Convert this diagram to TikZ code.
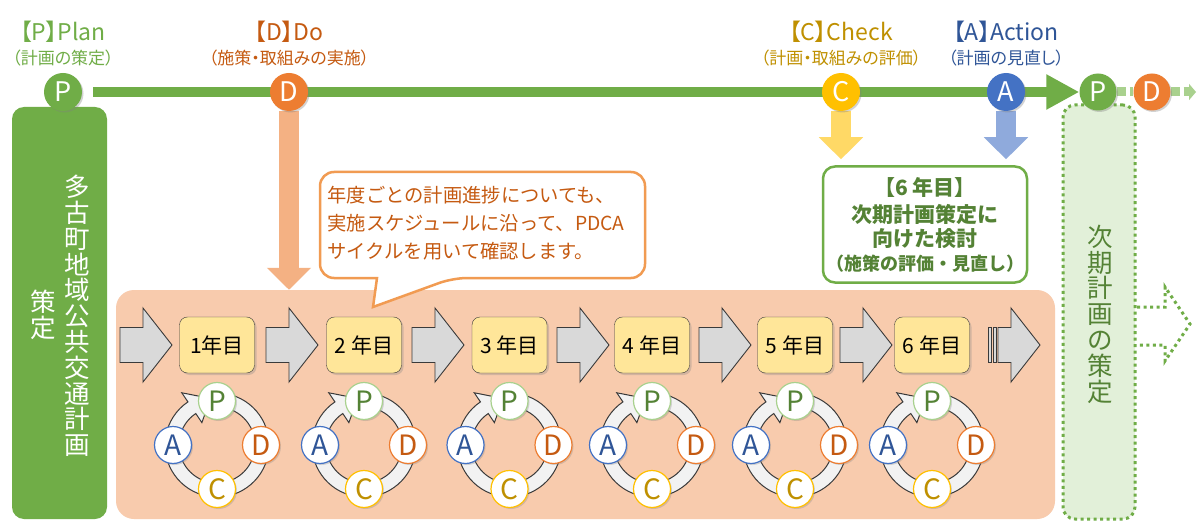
\documentclass[tikz,border=0pt]{standalone}
\usepackage{fontspec}
\setmainfont{Noto Sans CJK JP}
\newfontfamily\propfont{Noto Sans CJK JP}[RawFeature=+palt]
\usetikzlibrary{positioning, arrows.meta, shadows}
\pgfdeclarelayer{back}
\pgfdeclarelayer{lines}
\pgfsetlayers{back,lines,main}

\definecolor{pgreen}{HTML}{70AD47}
\definecolor{dgreen}{HTML}{548235}
\definecolor{lgreen}{HTML}{A9D18E}
\definecolor{palegreen}{HTML}{E2F0D9}
\definecolor{porange}{HTML}{ED7D31}
\definecolor{dorange}{HTML}{C55A11}
\definecolor{lorange}{HTML}{F4B183}
\definecolor{paleorange}{HTML}{F8CBAD}
\definecolor{bubbleorange}{HTML}{F19B52}
\definecolor{pyellow}{HTML}{FFC000}
\definecolor{dyellow}{HTML}{BF9000}
\definecolor{lyellow}{HTML}{FFD966}
\definecolor{boxyellow}{HTML}{FFE699}
\definecolor{pblue}{HTML}{4472C4}
\definecolor{dblue}{HTML}{2F5597}
\definecolor{lblue}{HTML}{8FAADC}
\definecolor{arrowgray}{HTML}{D9D9D9}
\definecolor{ringgray}{HTML}{F2F2F2}
\definecolor{edgegray}{HTML}{3A3A3A}

\begin{document}
\begin{tikzpicture}[x=1pt, y=1pt,
    phase/.style={circle, minimum size=38pt, inner sep=0pt, text=white,
        font=\fontsize{27}{27}\selectfont,
        drop shadow={shadow xshift=1.5pt, shadow yshift=-1.5pt, opacity=0.35}},
    phasetitle/.style={inner sep=0pt, font=\propfont\fontsize{23}{26}\selectfont},
    phasenote/.style={inner sep=0pt, font=\propfont\fontsize{17}{19}\selectfont},
    vtext/.style={align=center, inner sep=0pt, font=\fontsize{25.5}{25.8}\selectfont},
    planpanel/.style={fill=pgreen, rounded corners=12pt, minimum width=95pt, minimum height=412pt},
    yearpanel/.style={fill=paleorange, rounded corners=18pt, minimum width=939pt, minimum height=229pt},
    nextpanel/.style={fill=palegreen, draw=pgreen, line width=3pt, dash pattern=on 3pt off 3.5pt,
        rounded corners=12pt, minimum width=72pt, minimum height=414pt},
    mainline/.style={draw=pgreen, line width=10pt, shorten <=11pt,
        -{Triangle[length=33pt, width=33pt]}},
    nextline/.style={draw=lgreen, line width=9pt, dash pattern=on 9pt off 4pt},
    downarrow/.style={line width=20pt, -{Triangle[length=22pt, width=43pt]}},
    bubbleline/.style={draw=bubbleorange, fill=white, line width=2.5pt},
    bubble/.style={text width=310pt, align=left, inner xsep=7pt, text=dorange,
        font=\fontsize{19.3}{28}\selectfont},
    review/.style={draw=pgreen, line width=2.5pt, fill=white, rounded corners=12pt,
        minimum width=204pt, minimum height=116pt, align=center, text=dgreen,
        font=\bfseries\fontsize{21}{24}\selectfont, inner sep=2pt},
    yearbox/.style={draw=edgegray, fill=boxyellow, rounded corners=8pt,
        minimum width=75pt, minimum height=56pt, font=\fontsize{21}{21}\selectfont,
        drop shadow={shadow xshift=2pt, shadow yshift=-2pt, opacity=0.3}},
    grayarrow/.style={draw=edgegray, fill=arrowgray, line width=0.9pt},
    ringbody/.style={draw=edgegray, fill=ringgray, line width=1pt},
    cyc/.style={circle, fill=white, line width=1.2pt, minimum size=37pt, inner sep=0pt,
        font=\fontsize{28}{28}\selectfont,
        drop shadow={shadow xshift=1.5pt, shadow yshift=-1.5pt, opacity=0.3}},
    yeararrow/.pic={
        \draw[grayarrow] (0,-17.5) -- (23,-17.5) -- (23,-37) -- (52,0)
            -- (23,37) -- (23,17.5) -- (0,17.5) -- cycle;
    },
    pdca/.pic={
        \draw[ringbody] (80:52) arc[start angle=80, end angle=-236, radius=52]
            -- (-236:63) -- (-262:47) -- (-236:27) -- (-236:38)
            arc[start angle=-236, end angle=80, radius=38] -- cycle;
        \node[cyc, draw=lgreen, text=dgreen] (-p) at (90:44) {P};
        \node[cyc, draw=porange, text=dorange] (-d) at (0:44) {D};
        \node[cyc, draw=pyellow, text=dyellow] (-c) at (-90:44) {C};
        \node[cyc, draw=pblue, text=dblue] (-a) at (180:44) {A};
    }
]
\useasboundingbox (0,0) rectangle (1198,-521);
\begin{pgfonlayer}{back}
  \fill[white] (0,0) rectangle (1198,-521);
\end{pgfonlayer}

% panels
\node[planpanel] (planbox) at (59.5,-313) {};
\node[vtext, text=white] (plantitle) at (77,-316) {多\\古\\町\\地\\域\\公\\共\\交\\通\\計\\画};
\node[vtext, text=white] (plansub) at (43,-315) {策\\定};
\node[yearpanel] (years) at (585.5,-404.5) {};
\node[nextpanel] (nextbox) at (1099,-312) {};
\node[vtext, text=dgreen] (nexttitle) at (1100,-314) {次\\期\\計\\画\\の\\策\\定};
\draw[draw=pgreen, line width=3pt, dash pattern=on 3pt off 3.5pt]
    (1137,-307) -- (1165,-307) -- (1165,-287) -- (1190,-324)
    -- (1165,-361) -- (1165,-345) -- (1137,-345);

% PDCA phases
\node[phase, fill=pgreen] (p0) at (63,-92) {P};
\node[phase, fill=porange] (d0) at (289,-92) {D};
\node[phase, fill=pyellow] (c0) at (841,-92) {C};
\node[phase, fill=pblue] (a0) at (1006,-92) {A};
\node[phase, fill=pgreen, minimum size=37pt] (p1) at (1098,-92) {P};
\node[phase, fill=porange, minimum size=37pt] (d1) at (1152,-92) {D};
\coordinate (nextend) at (1196,-92);

\node[phasenote, text=pgreen, above=6pt of p0] (pnote) {（計画の策定）};
\node[phasetitle, text=pgreen, above=8pt of pnote] (ptitle) {【P】Plan};
\node[phasenote, text=dorange, above=6pt of d0] (dnote) {（施策・取組みの実施）};
\node[phasetitle, text=dorange, above=8pt of dnote] (dtitle) {【D】Do};
\node[phasenote, text=dyellow, above=6pt of c0] (cnote) {（計画・取組みの評価）};
\node[phasetitle, text=dyellow, above=8pt of cnote] (ctitle) {【C】Check};
\node[phasenote, text=dblue, above=6pt of a0] (anote) {（計画の見直し）};
\node[phasetitle, text=dblue, above=8pt of anote] (atitle) {【A】Action};

% callouts
\draw[bubbleline] (377,-278) [rounded corners=14pt] -- (320,-278) -- (320,-172)
    -- (645,-172) -- (645,-278) -- (453,-278) [sharp corners] -- (373,-307) -- cycle;
\node[bubble] (bubble) at (482.5,-223) {年度ごとの計画進捗についても、\\実施スケジュールに沿って、PDCA\\サイクルを用いて確認します。};
\node[review] (review) at (925,-224.5) {【6 年目】\\[3pt]次期計画策定に\\向けた検討\\{\fontsize{18}{20}\selectfont （施策の評価・見直し）}};

% years
\foreach \i/\x/\ax/\lbl in {1/217/120/1年目, 2/364/266/2 年目, 3/509.5/412/3 年目,
    4/652/557/4 年目, 5/795/699/5 年目, 6/932/840/6 年目} {
  \pic at (\ax,-345) {yeararrow};
  \node[yearbox] (yr\i) at (\x,-345) {\lbl};
  \pic (cyc\i) at (\x,-445) {pdca};
}
\draw[grayarrow] (988.5,-362.5) rectangle (991,-327.5);
\draw[grayarrow] (993.5,-362.5) rectangle (996,-327.5);
\draw[grayarrow] (998,-362.5) -- (1011,-362.5) -- (1011,-382) -- (1040,-345)
    -- (1011,-308) -- (1011,-327.5) -- (998,-327.5) -- cycle;

\begin{pgfonlayer}{lines}
  \draw[mainline] (p0) -- (p1);
  \draw[downarrow, draw=lorange] (d0) -- (d0 |- years.north);
  \draw[downarrow, draw=lyellow, shorten >=6pt] (c0) -- (c0 |- review.north);
  \draw[downarrow, draw=lblue, shorten >=6pt] (a0) -- (a0 |- review.north);
  \draw[nextline] (p1) -- (d1);
  \draw[nextline, -{Triangle[length=7pt, width=16pt]}] (d1) -- (nextend);
\end{pgfonlayer}

\end{tikzpicture}
\end{document}
